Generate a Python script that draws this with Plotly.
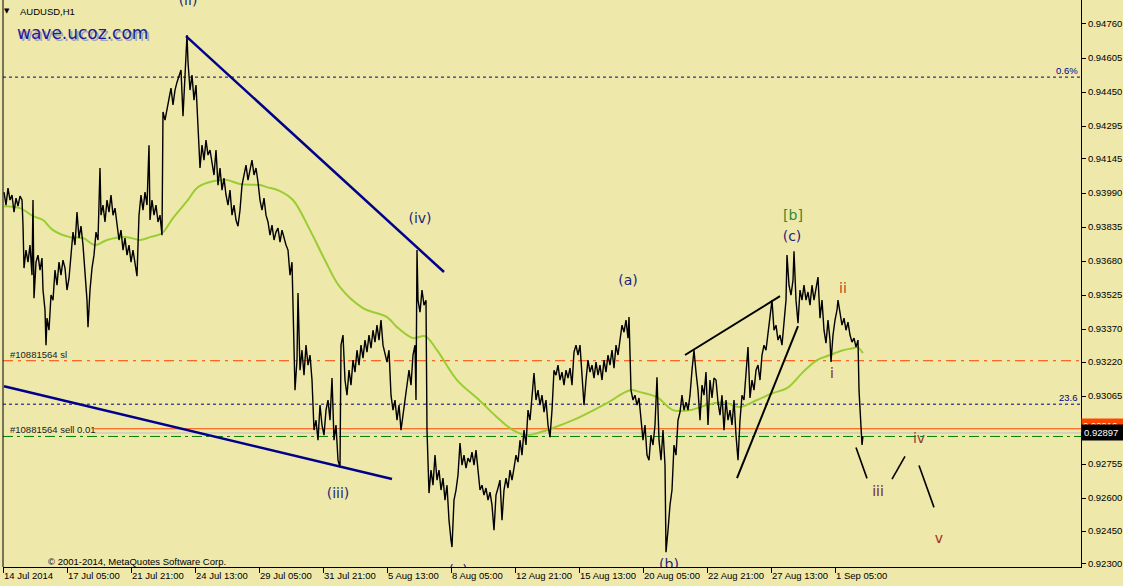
import plotly.graph_objects as go

# ---------------- data ----------------
# x = hourly bar index counted from the first visible bar (14 Jul 2014 13:00)
# prices are given in points (1 point = 0.00001)
bars = [
    1, 3, 5, 7, 9, 11, 13, 15, 17, 19,
    20, 21, 23, 25, 27, 29, 30, 31, 33, 35,
    37, 39, 40, 42, 43, 44, 46, 48, 50, 52,
    54, 56, 58, 60, 62, 64, 66, 68, 70, 72,
    74, 76, 78, 80, 82, 84, 85, 87, 89, 91,
    93, 95, 97, 98, 100, 102, 104, 106, 108, 110,
    112, 114, 116, 118, 120, 122, 124, 126, 128, 130,
    132, 134, 136, 138, 140, 142, 144, 146, 147, 149,
    151, 153, 155, 157, 159, 160, 162, 164, 166, 168,
    170, 172, 174, 176, 178, 180, 182, 184, 185, 187,
    189, 191, 193, 195, 197, 199, 201, 203, 205, 207,
    209, 211, 213, 215, 217, 219, 221, 223, 225, 227,
    229, 231, 233, 235, 237, 239, 241, 243, 245, 247,
    249, 251, 253, 255, 257, 259, 261, 263, 265, 267,
    269, 271, 273, 275, 277, 279, 281, 283, 285, 287,
    289, 290, 292, 294, 295, 297, 299, 301, 303, 305,
    307, 309, 311, 313, 315, 317, 319, 321, 323, 325,
    327, 329, 331, 333, 335, 337, 338, 340, 342, 344,
    346, 348, 350, 352, 354, 356, 358, 360, 362, 364,
    366, 368, 370, 372, 374, 376, 378, 380, 382, 384,
    386, 388, 390, 392, 394, 396, 398, 400, 402, 404,
    406, 408, 410, 412, 413, 414, 415, 417, 419, 421,
    423, 424, 426, 428, 430, 432, 434, 436, 438, 440,
    442, 444, 446, 448, 449, 451, 453, 455, 457, 459,
    461, 463, 465, 467, 469, 471, 473, 475, 477, 479,
    481, 483, 485, 487, 489, 491, 493, 495, 497, 499,
    501, 503, 505, 507, 509, 511, 513, 515, 517, 519,
    521, 523, 525, 527, 529, 531, 533, 535, 537, 539,
    541, 543, 545, 547, 549, 551, 553, 555, 557, 559,
    561, 563, 565, 567, 569, 571, 573, 575, 577, 579,
    581, 583, 585, 587, 589, 591, 593, 595, 597, 599,
    601, 603, 605, 607, 609, 611, 613, 615, 617, 619,
    621, 623, 625, 626, 628, 630, 632, 634, 636, 638,
    640, 642, 644, 646, 648, 650, 652, 654, 656, 658,
    660, 662, 663, 665, 667, 669, 671, 673, 675, 677,
    679, 681, 683, 685, 687, 689, 691, 693, 695, 697,
    699, 701, 703, 705, 707, 709, 711, 713, 715, 717,
    719, 721, 723, 725, 727, 729, 731, 733, 735, 737,
    739, 741, 743, 745, 747, 749, 751, 753, 755, 757,
    759, 761, 763, 765, 767, 769, 771, 773, 775, 777,
    779, 781, 783, 784, 786, 788, 790, 791, 793, 795,
    797, 799, 801, 803, 805, 807, 809, 811, 813, 815,
    817, 819, 821, 823, 825, 827, 828, 830, 832, 834,
    835, 837, 839, 841, 843, 845, 847, 849, 851, 853,
    855, 856, 858, 859, 860,
]
close_pts = [
    93994, 93935, 94012, 93958, 93981, 93903, 93967, 93930, 93976, 93958,
    93844, 93648, 93730, 93675, 93753, 93616, 93958, 93511, 93675, 93707,
    93639, 93694, 93548, 93457, 93297, 93420, 93365, 93525, 93502, 93639,
    93570, 93675, 93616, 93684, 93648, 93548, 93602, 93730, 93812, 93753,
    93903, 93785, 93839, 93753, 93616, 93502, 93379, 93548, 93648, 93707,
    93812, 93776, 94104, 93889, 93935, 93858, 93958, 93903, 93981, 93889,
    93921, 93844, 93776, 93821, 93730, 93785, 93707, 93753, 93675, 93730,
    93675, 93611, 93889, 93981, 93912, 93994, 93935, 94208, 93867, 93958,
    93889, 93935, 93858, 93889, 93798, 94359, 94322, 94377, 94432, 94468,
    94391, 94459, 94495, 94527, 94550, 94340, 94505, 94710, 94587, 94459,
    94527, 94413, 94482, 94313, 94104, 94208, 94140, 94231, 94163, 94186,
    94117, 94072, 94186, 94026, 94104, 94003, 94058, 93981, 93935, 94003,
    93889, 93935, 93867, 93839, 93912, 94026, 94072, 94117, 94049, 94094,
    94140, 94072, 94104, 94040, 93958, 93912, 93967, 93889, 93858, 93798,
    93844, 93776, 93812, 93830, 93766, 93821, 93785, 93753, 93730, 93616,
    93675, 93502, 93092, 93229, 93534, 93183, 93274, 93160, 93297, 93206,
    93252, 93138, 92910, 92955, 92864, 93024, 92933, 92887, 93001, 93047,
    92955, 93147, 92864, 92933, 92773, 92741, 93297, 93343, 93138, 93069,
    93183, 93115, 93229, 93174, 93274, 93206, 93297, 93238, 93320, 93265,
    93343, 93283, 93365, 93311, 93388, 93320, 93411, 93297, 93252, 93220,
    93274, 93069, 93001, 93047, 92955, 93024, 92910, 92978, 93069, 93138,
    93183, 93115, 93252, 93297, 93047, 93730, 93502, 93447, 93548, 93479,
    93502, 92910, 92623, 92728, 92659, 92796, 92682, 92728, 92637, 92691,
    92591, 92659, 92500, 92409, 92377, 92591, 92637, 92705, 92851, 92750,
    92796, 92737, 92782, 92764, 92810, 92750, 92819, 92728, 92637, 92659,
    92614, 92646, 92591, 92627, 92568, 92454, 92614, 92646, 92682, 92500,
    92637, 92691, 92646, 92728, 92682, 92737, 92796, 92764, 92864, 92796,
    92910, 92842, 93001, 92955, 93069, 93170, 93047, 93092, 93024, 93069,
    92992, 93047, 92933, 92878, 93001, 93183, 93160, 93206, 93138, 93174,
    93115, 93183, 93147, 93192, 93115, 93265, 93297, 93252, 93297, 93160,
    93024, 93138, 93229, 93174, 93206, 93147, 93220, 93160, 93206, 93138,
    93229, 93174, 93252, 93206, 93274, 93192, 93297, 93252, 93320, 93388,
    93356, 93411, 93329, 93425, 93092, 93047, 93069, 93024, 93056, 92955,
    92864, 92933, 92796, 92773, 92887, 92842, 92933, 93151, 92864, 92773,
    92910, 92750, 92354, 92454, 92568, 92637, 92842, 92796, 92955, 92992,
    93069, 93001, 93037, 93001, 93069, 93183, 93274, 93174, 93092, 92955,
    93115, 93069, 93174, 92933, 93138, 93056, 93147, 93138, 93037, 92978,
    93069, 92910, 93047, 92955, 93001, 92933, 93047, 92887, 92773, 92955,
    93069, 93047, 93160, 93288, 93056, 93138, 93092, 93183, 93206, 93138,
    93252, 93297, 93274, 93343, 93411, 93502, 93365, 93388, 93320, 93343,
    93297, 93388, 93502, 93707, 93570, 93525, 93593, 93725, 93502, 93397,
    93548, 93502, 93570, 93502, 93539, 93479, 93570, 93502, 93548, 93607,
    93420, 93502, 93365, 93306, 93411, 93320, 93220, 93343, 93411, 93457,
    93502, 93434, 93388, 93420, 93365, 93402, 93343, 93311, 93329, 93288,
    93320, 93092, 92955, 92842, 92883,
]

# moving average (green)
ma_bars = [1, 17, 30, 40, 50, 67, 80, 92, 104, 124, 137, 147, 159, 170, 184,
           195, 210, 224, 237, 257, 264, 277, 290, 307, 322, 337, 360, 384, 394,
           410, 422, 434, 454, 474, 494, 510, 524, 534, 547, 570, 604, 627, 637,
           654, 670, 687, 704, 720, 737, 754, 770, 784, 800, 814, 827, 840, 850,
           854, 860]
ma_pts = [93930, 93921, 93885, 93867, 93821, 93789, 93785, 93753, 93776, 93789,
          93776, 93789, 93807, 93876, 93953, 94017, 94044, 94049, 94031, 94026,
          94017, 93999, 93958, 93821, 93684, 93561, 93466, 93425, 93379, 93329,
          93338, 93274, 93138, 93056, 92969, 92910, 92887, 92896, 92915, 92955,
          93033, 93092, 93083, 93060, 93001, 93001, 93024, 93037, 93015, 93047,
          93079, 93101, 93174, 93229, 93252, 93274, 93283, 93288, 93261]

# trend lines: [start bar, end bar] / [start pts, end pts]
blue_tl_bars = [[183, 441], [1, 389]]
blue_tl_pts = [[94705, 93630], [93110, 92687]]
black_tl_bars = [[682, 777], [734, 795]]
black_tl_pts = [[93252, 93520], [92691, 93384]]
proj_bars = [[853, 864], [889, 902], [916, 931]]
proj_pts = [[92831, 92690], [92687, 92790], [92749, 92558]]

# horizontal levels
fib_06 = 0.94518
sl_level = 0.93226
fib_236 = 0.93028
sell_level = 0.92916
bid_level = 0.92897
green_level = 0.92881

# wave labels
wave_text = ["(ii)", "(iv)", "(iii)", "(v)", "(a)", "(b)", "[b]", "(c)",
             "ii", "i", "iii", "iv", "v"]
wave_bars = [185, 417, 335, 455, 625, 666, 790, 789, 840, 829, 875, 916, 936]
wave_price = [0.94862, 0.93871, 0.92618, 0.92268, 0.93589, 0.92292, 0.93885,
              0.93789, 0.93552, 0.93165, 0.92627, 0.92869, 0.92413]
wave_color = ["#1f1f7a", "#1f1f7a", "#1f1f7a", "#1f1f7a", "#1f1f7a", "#1f1f7a",
              "#2e8b2e", "#1f1f7a", "#b4461e", "#8c2a14", "#7a2626", "#8a4030",
              "#a03020"]

# axis ticks
x_tick_bars = [0, 64, 128, 192, 256, 320, 384, 448, 512, 576, 640, 704, 768, 832]
x_tick_text = ["14 Jul 2014", "17 Jul 05:00", "21 Jul 21:00", "24 Jul 13:00",
               "29 Jul 05:00", "31 Jul 21:00", "5 Aug 13:00", "8 Aug 05:00",
               "12 Aug 21:00", "15 Aug 13:00", "20 Aug 05:00", "22 Aug 21:00",
               "27 Aug 13:00", "1 Sep 05:00"]
y_tick_vals = [0.94760, 0.94605, 0.94450, 0.94295, 0.94145, 0.93990, 0.93835,
               0.93680, 0.93525, 0.93370, 0.93220, 0.93065, 0.92755, 0.92600,
               0.92450, 0.92300]
y_tick_text = ["%.5f" % v for v in y_tick_vals]

# ---------------- figure ----------------
BG = "#EEE8AA"
FONT = "Liberation Sans, Arial, sans-serif"
VFONT = "DejaVu Sans, Verdana, sans-serif"
P = 1e-5

fig = go.Figure()


def segs(bx, by):
    xs, ys = [], []
    for b, p in zip(bx, by):
        xs += [b[0], b[1], None]
        ys += [p[0] * P, p[1] * P, None]
    return xs, ys


# moving average
fig.add_trace(go.Scatter(x=ma_bars, y=[v * P for v in ma_pts], mode="lines",
                         line=dict(color="#9ACD32", width=2, shape="spline"),
                         hoverinfo="skip"))
# price line
fig.add_trace(go.Scatter(x=bars, y=[v * P for v in close_pts], mode="lines",
                         line=dict(color="black", width=1.4), hoverinfo="skip"))
# trend lines
xs, ys = segs(blue_tl_bars, blue_tl_pts)
fig.add_trace(go.Scatter(x=xs, y=ys, mode="lines",
                         line=dict(color="#00008B", width=2.5), hoverinfo="skip"))
xs, ys = segs(black_tl_bars, black_tl_pts)
fig.add_trace(go.Scatter(x=xs, y=ys, mode="lines",
                         line=dict(color="black", width=2), hoverinfo="skip"))
xs, ys = segs(proj_bars, proj_pts)
fig.add_trace(go.Scatter(x=xs, y=ys, mode="lines",
                         line=dict(color="black", width=1.6), hoverinfo="skip"))
# wave labels (clipped at the plot area like in the terminal)
fig.add_trace(go.Scatter(x=wave_bars, y=wave_price, mode="text", text=wave_text,
                         textfont=dict(family=VFONT, size=14, color=wave_color),
                         cliponaxis=True, hoverinfo="skip"))

# horizontal levels
x_after_label = 91 / 1078
levels = [
    (fib_06, "#00008B", "3px,3px", 0),
    (sl_level, "#FF4500", "10px,5px,3px,5px", 0),
    (fib_236, "#00008B", "3px,3px", 0),
    (green_level, "#008000", "10px,4px,3px,4px", 0),
    (bid_level, "#C0C0C0", "solid", x_after_label),
    (sell_level, "#FF4500", "solid", x_after_label),
]
for yv, col, dash, x0 in levels:
    fig.add_shape(type="line", xref="paper", yref="y", x0=x0, x1=1, y0=yv, y1=yv,
                  line=dict(color=col, width=1, dash=dash), layer="below")
# left frame
fig.add_shape(type="line", xref="paper", yref="paper", x0=0, x1=0, y0=0, y1=1,
              line=dict(color="black", width=1))

anns = []


def pap(px, py):
    return (px - 3) / 1078, 1 - py / 567


# title and watermark
x_, y_ = pap(7, 11)
anns.append(dict(x=x_, y=y_, text="▼", font=dict(size=7, color="black", family=VFONT),
                 xanchor="center", yanchor="middle"))
x_, y_ = pap(18, 11)
anns.append(dict(x=x_, y=y_, text="AUDUSD,H1", font=dict(size=9.5, color="black", family=FONT),
                 xanchor="left", yanchor="middle"))
x_, y_ = pap(15, 33)
anns.append(dict(x=x_, y=y_, text="wave.ucoz.com", xshift=2, yshift=-2,
                 font=dict(size=17, color="#a4a4b8", family=VFONT),
                 xanchor="left", yanchor="middle"))
anns.append(dict(x=x_, y=y_, text="wave.ucoz.com",
                 font=dict(size=17, color="#1a1a9a", family=VFONT),
                 xanchor="left", yanchor="middle"))
x_, y_ = pap(46, 561)
anns.append(dict(x=x_, y=y_, text="© 2001-2014, MetaQuotes Software Corp.",
                 font=dict(size=9.5, color="black", family=FONT),
                 xanchor="left", yanchor="middle"))
# level labels
x_, _ = pap(8, 0)
anns.append(dict(x=x_, xref="paper", y=sl_level, yref="y", text="#10881564 sl",
                 font=dict(size=9.5, color="#202020", family=FONT),
                 xanchor="left", yanchor="bottom", yshift=-1))
anns.append(dict(x=x_, xref="paper", y=sell_level, yref="y", text="#10881564 sell 0.01",
                 font=dict(size=9.5, color="#202020", family=FONT),
                 xanchor="left", yanchor="middle", yshift=-1))
x_, _ = pap(1080, 0)
anns.append(dict(x=x_, xref="paper", y=fib_06, yref="y", text="0.6%",
                 font=dict(size=9.5, color="#00008B", family=FONT),
                 xanchor="right", yanchor="bottom", yshift=-1))
anns.append(dict(x=x_, xref="paper", y=fib_236, yref="y", text="23.6",
                 font=dict(size=9.5, color="#00008B", family=FONT),
                 xanchor="right", yanchor="bottom", yshift=-1))
# price boxes on the axis
anns.append(dict(x=1, xref="paper", y=sell_level, yref="y", text="0.92916",
                 font=dict(size=9.5, color="white", family=FONT), bgcolor="#FF4500",
                 xanchor="left", yanchor="middle", borderpad=1, width=40,
                 align="left", yshift=3))
anns.append(dict(x=1, xref="paper", y=bid_level, yref="y", text="0.92897",
                 font=dict(size=9.5, color="white", family=FONT), bgcolor="black",
                 xanchor="left", yanchor="middle", borderpad=2, width=40,
                 align="left"))
for a in anns:
    a.setdefault("xref", "paper")
    a.setdefault("yref", "paper")
    a["showarrow"] = False

fig.update_layout(
    width=1123, height=586,
    margin=dict(l=3, r=42, t=0, b=19, pad=0),
    paper_bgcolor=BG, plot_bgcolor=BG,
    showlegend=False,
    font=dict(family=FONT, size=9.5, color="black"),
    annotations=anns,
    hovermode=False,
)
fig.update_xaxes(range=[0, 1078], tickvals=x_tick_bars, ticktext=x_tick_text,
                 showgrid=False, zeroline=False, showline=True, linecolor="black",
                 linewidth=1, ticks="outside", ticklen=5, tickcolor="black",
                 ticklabelposition="outside right", tickangle=0,
                 ticklabeloverflow="allow",
                 tickfont=dict(size=9.5, family=FONT, color="black"))
fig.update_yaxes(range=[0.922863, 0.948693], side="right", tickvals=y_tick_vals,
                 ticktext=y_tick_text, showgrid=False, zeroline=False, showline=True,
                 linecolor="black", linewidth=1, ticks="outside", ticklen=4,
                 ticklabeloverflow="allow",
                 tickcolor="black", tickfont=dict(size=9.5, family=FONT, color="black"))

fig.write_html("out.html", config={"displayModeBar": False, "staticPlot": True},
               post_script="document.body.style.margin='0px';"
                           "document.body.style.background='#EEE8AA';")
